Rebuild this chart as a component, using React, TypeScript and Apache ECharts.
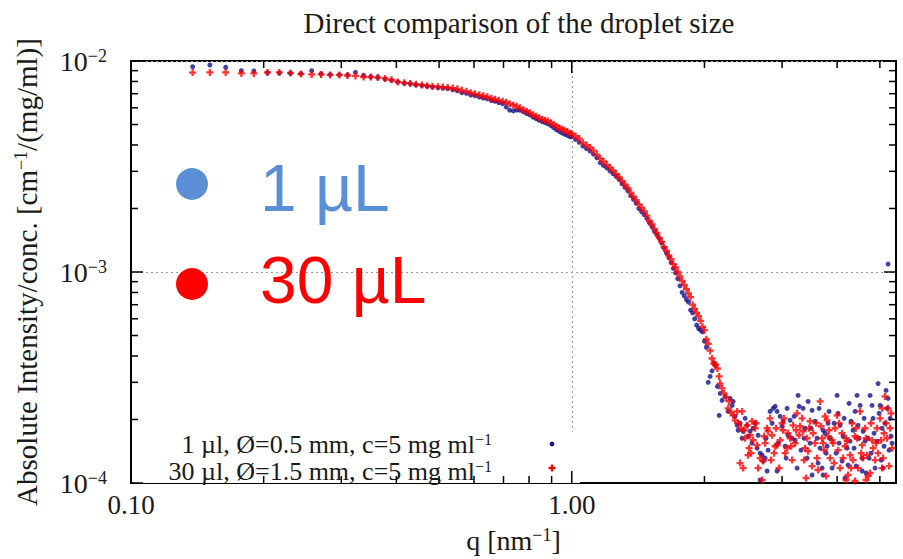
import React, { useEffect, useRef } from 'react';
import * as echarts from 'echarts';

// ---- data: smooth part (shared q grids) ----
const qLow = [
  0.138, 0.151, 0.164, 0.178, 0.190, 0.204, 0.217, 0.230, 0.243, 0.257,
  0.270, 0.283, 0.297, 0.310, 0.323, 0.337, 0.350, 0.363, 0.377, 0.390,
  0.403, 0.417, 0.430, 0.443, 0.457, 0.470, 0.483, 0.497, 0.510, 0.523,
  0.537, 0.550, 0.563, 0.577, 0.590, 0.603, 0.617, 0.630, 0.643, 0.657,
  0.670, 0.683, 0.697, 0.710, 0.723, 0.737, 0.750, 0.763, 0.777, 0.790,
  0.803, 0.817, 0.830, 0.843, 0.857, 0.870, 0.883, 0.897, 0.910, 0.923,
  0.937, 0.950, 0.963, 0.977, 0.990,
];
const redLow = [
  8.81e-3, 8.83e-3, 8.83e-3, 8.73e-3, 8.73e-3, 8.83e-3, 8.83e-3, 8.78e-3, 8.68e-3, 8.64e-3,
  8.64e-3, 8.59e-3, 8.59e-3, 8.54e-3, 8.50e-3, 8.40e-3, 8.40e-3, 8.36e-3, 8.27e-3, 8.14e-3,
  7.96e-3, 7.88e-3, 7.83e-3, 7.75e-3, 7.70e-3, 7.64e-3, 7.60e-3, 7.56e-3, 7.52e-3, 7.49e-3,
  7.44e-3, 7.38e-3, 7.26e-3, 7.18e-3, 7.07e-3, 6.99e-3, 6.91e-3, 6.84e-3, 6.77e-3, 6.66e-3,
  6.58e-3, 6.51e-3, 6.44e-3, 6.37e-3, 6.27e-3, 6.17e-3, 6.10e-3, 6.00e-3, 5.87e-3, 5.78e-3,
  5.69e-3, 5.56e-3, 5.47e-3, 5.39e-3, 5.30e-3, 5.24e-3, 5.19e-3, 5.10e-3, 4.99e-3, 4.91e-3,
  4.83e-3, 4.75e-3, 4.70e-3, 4.63e-3, 4.55e-3,
];
const blueLow = [
  9.40e-3, 9.57e-3, 9.34e-3, 9.00e-3, 8.97e-3, 8.80e-3, 8.78e-3, 8.75e-3, 8.72e-3, 9.00e-3,
  8.70e-3, 8.62e-3, 8.60e-3, 8.58e-3, 8.84e-3, 8.55e-3, 8.42e-3, 8.35e-3, 8.22e-3, 8.10e-3,
  7.95e-3, 7.85e-3, 7.80e-3, 7.72e-3, 7.66e-3, 7.58e-3, 7.52e-3, 7.48e-3, 7.44e-3, 7.40e-3,
  7.30e-3, 7.22e-3, 7.08e-3, 7.02e-3, 6.90e-3, 6.84e-3, 6.75e-3, 6.68e-3, 6.62e-3, 6.50e-3,
  6.44e-3, 6.36e-3, 6.28e-3, 6.05e-3, 5.85e-3, 5.80e-3, 5.86e-3, 5.84e-3, 5.74e-3, 5.64e-3,
  5.55e-3, 5.42e-3, 5.33e-3, 5.24e-3, 5.16e-3, 5.10e-3, 5.04e-3, 4.94e-3, 4.83e-3, 4.72e-3,
  4.64e-3, 4.56e-3, 4.50e-3, 4.44e-3, 4.38e-3,
];
const qMid = [
  1.00, 1.02, 1.04, 1.06, 1.08, 1.10, 1.12, 1.14, 1.16, 1.18,
  1.20, 1.22, 1.24, 1.26, 1.28, 1.30, 1.32, 1.34, 1.36, 1.38,
  1.40, 1.42, 1.44, 1.46, 1.48, 1.50, 1.52, 1.54, 1.56, 1.58,
  1.60, 1.62, 1.64, 1.66, 1.68, 1.70, 1.72, 1.74, 1.76, 1.78,
  1.80, 1.82, 1.84, 1.86, 1.88, 1.90, 1.92, 1.94, 1.96, 1.98,
  2.00, 2.02, 2.04, 2.06, 2.08, 2.10, 2.12, 2.14, 2.16,
];
const redMid = [
  4.52e-3, 4.40e-3, 4.29e-3, 4.10e-3, 3.99e-3, 3.89e-3, 3.76e-3, 3.60e-3, 3.45e-3, 3.34e-3,
  3.23e-3, 3.13e-3, 3.03e-3, 2.92e-3, 2.82e-3, 2.70e-3, 2.60e-3, 2.50e-3, 2.38e-3, 2.28e-3,
  2.19e-3, 2.09e-3, 2.02e-3, 1.94e-3, 1.85e-3, 1.75e-3, 1.68e-3, 1.60e-3, 1.53e-3, 1.45e-3,
  1.39e-3, 1.31e-3, 1.26e-3, 1.20e-3, 1.15e-3, 1.09e-3, 1.05e-3, 1.00e-3, 9.52e-4, 9.07e-4,
  8.68e-4, 8.31e-4, 7.92e-4, 7.60e-4, 7.00e-4, 6.69e-4, 6.41e-4, 6.17e-4, 5.87e-4, 5.50e-4,
  5.30e-4, 4.80e-4, 4.57e-4, 4.24e-4, 3.89e-4, 3.68e-4, 3.64e-4, 3.49e-4, 3.20e-4,
];
const blueMid = [
  4.38e-3, 4.25e-3, 4.12e-3, 3.95e-3, 3.84e-3, 3.74e-3, 3.62e-3, 3.48e-3, 3.30e-3, 3.20e-3,
  3.12e-3, 3.02e-3, 2.93e-3, 2.84e-3, 2.75e-3, 2.62e-3, 2.52e-3, 2.43e-3, 2.30e-3, 2.21e-3,
  2.12e-3, 2.00e-3, 1.93e-3, 1.87e-3, 1.80e-3, 1.71e-3, 1.64e-3, 1.56e-3, 1.50e-3, 1.44e-3,
  1.37e-3, 1.30e-3, 1.23e-3, 1.17e-3, 1.11e-3, 1.04e-3, 9.9e-4, 9.3e-4, 8.6e-4, 8.0e-4,
  7.7e-4, 7.4e-4, 7.2e-4, 6.6e-4, 6.4e-4, 6.0e-4, 5.6e-4, 5.4e-4, 5.3e-4, 5.2e-4,
  4.7e-4, 4.4e-4, 3.0e-4, 3.2e-4, 3.4e-4, 3.7e-4, 3.6e-4, 2.87e-4, 2.09e-4,
];

// ---- data: noisy high-q tail, [q, I] ----
const blueTail: [number, number][] = [
  [2.171, 2.657e-4], [2.193, 2.463e-4], [2.228, 2.572e-4], [2.263, 2.185e-4], [2.287, 2.517e-4],
  [2.311, 2.332e-4], [2.323, 2.436e-4], [2.348, 2.070e-4], [2.373, 1.877e-4], [2.385, 1.778e-4],
  [2.409, 1.919e-4], [2.435, 1.630e-4], [2.448, 1.759e-4], [2.473, 2.026e-4], [2.499, 1.877e-4],
  [2.512, 1.666e-4], [2.538, 1.759e-4], [2.565, 1.544e-4], [2.578, 1.817e-4], [2.606, 1.919e-4],
  [2.633, 1.462e-4], [2.647, 1.684e-4], [2.675, 1.385e-4], [2.675, 1.033e-4], [2.703, 1.355e-4],
  [2.717, 1.270e-4], [2.746, 1.312e-4], [2.760, 1.630e-4], [2.774, 1.140e-4], [2.789, 1.431e-4],
  [2.818, 2.185e-4], [2.848, 1.919e-4], [2.863, 2.258e-4], [2.893, 2.307e-4], [2.923, 2.185e-4],
  [2.923, 1.140e-4], [2.938, 1.544e-4], [2.970, 2.070e-4], [3.001, 1.857e-4], [3.017, 1.961e-4],
  [3.048, 1.494e-4], [3.064, 1.312e-4], [3.080, 2.258e-4], [3.096, 1.684e-4], [3.129, 1.982e-4],
  [3.162, 1.630e-4], [3.195, 2.070e-4], [3.212, 1.595e-4], [3.245, 1.177e-4], [3.262, 2.600e-4],
  [3.280, 2.307e-4], [3.313, 1.431e-4], [3.348, 2.258e-4], [3.366, 1.630e-4], [3.383, 1.817e-4],
  [3.419, 1.312e-4], [3.437, 2.436e-4], [3.473, 1.544e-4], [3.491, 1.817e-4], [3.509, 2.209e-4],
  [3.509, 1.091e-4], [3.565, 1.961e-4], [3.602, 1.630e-4], [3.621, 1.243e-4], [3.640, 2.258e-4],
  [3.659, 1.462e-4], [3.698, 1.177e-4], [3.717, 1.778e-4], [3.717, 1.091e-4], [3.756, 1.721e-4],
  [3.776, 1.385e-4], [3.796, 1.494e-4], [3.815, 1.919e-4], [3.835, 2.185e-4], [3.855, 1.630e-4],
  [3.896, 1.177e-4], [3.937, 1.919e-4], [3.978, 1.385e-4], [3.999, 2.600e-4], [4.020, 2.139e-4],
  [4.041, 1.544e-4], [4.062, 1.877e-4], [4.104, 1.270e-4], [4.126, 1.666e-4], [4.148, 2.026e-4],
  [4.169, 1.056e-4], [4.213, 1.462e-4], [4.235, 1.216e-4], [4.257, 2.384e-4], [4.280, 1.578e-4],
  [4.302, 1.961e-4], [4.347, 1.778e-4], [4.370, 1.462e-4], [4.393, 2.185e-4], [4.416, 1.203e-4],
  [4.439, 2.600e-4], [4.462, 1.877e-4], [4.486, 1.630e-4], [4.510, 2.332e-4], [4.557, 1.312e-4],
  [4.557, 1.140e-4], [4.581, 1.759e-4], [4.605, 2.026e-4], [4.629, 1.578e-4], [4.653, 1.115e-4],
  [4.702, 1.630e-4], [4.726, 1.312e-4], [4.751, 2.600e-4], [4.776, 1.385e-4], [4.801, 2.332e-4],
  [4.826, 2.026e-4], [4.851, 1.721e-4], [4.877, 1.177e-4], [4.928, 1.578e-4], [4.954, 2.960e-4],
  [4.980, 2.139e-4], [5.006, 2.332e-4], [5.032, 1.284e-4], [5.058, 1.817e-4], [5.085, 1.177e-4],
  [5.111, 1.494e-4], [5.138, 1.919e-4], [5.165, 2.746e-4], [5.192, 2.258e-4], [5.219, 2.517e-4],
  [5.219, 1.090e-3], [5.247, 1.431e-4], [5.275, 2.026e-4], [5.302, 1.666e-4], [5.330, 1.544e-4],
];
const redTail: [number, number][] = [
  [2.171, 2.960e-4], [2.193, 2.806e-4], [2.216, 2.657e-4], [2.240, 2.544e-4], [2.263, 2.258e-4],
  [2.275, 2.436e-4], [2.299, 2.162e-4], [2.323, 2.093e-4], [2.348, 1.982e-4], [2.373, 2.185e-4],
  [2.385, 1.919e-4], [2.409, 1.243e-4], [2.422, 1.817e-4], [2.435, 2.185e-4], [2.448, 1.177e-4],
  [2.460, 1.778e-4], [2.473, 1.630e-4], [2.499, 1.877e-4], [2.512, 1.355e-4], [2.525, 1.462e-4],
  [2.538, 1.684e-4], [2.552, 1.385e-4], [2.565, 1.961e-4], [2.578, 1.595e-4], [2.606, 1.817e-4],
  [2.619, 1.919e-4], [2.633, 1.511e-4], [2.647, 1.177e-4], [2.675, 1.312e-4], [2.703, 1.033e-4],
  [2.717, 1.270e-4], [2.731, 1.666e-4], [2.746, 1.544e-4], [2.774, 1.817e-4], [2.789, 1.759e-4],
  [2.818, 2.026e-4], [2.833, 1.284e-4], [2.848, 1.684e-4], [2.878, 1.385e-4], [2.893, 1.494e-4],
  [2.908, 1.817e-4], [2.923, 1.511e-4], [2.954, 1.177e-4], [2.970, 1.595e-4], [3.001, 1.919e-4],
  [3.017, 1.778e-4], [3.032, 2.026e-4], [3.048, 1.385e-4], [3.080, 1.462e-4], [3.096, 1.721e-4],
  [3.129, 1.630e-4], [3.145, 1.494e-4], [3.162, 1.284e-4], [3.178, 1.877e-4], [3.212, 1.544e-4],
  [3.229, 1.778e-4], [3.245, 2.139e-4], [3.280, 1.684e-4], [3.296, 1.857e-4], [3.331, 2.026e-4],
  [3.348, 1.759e-4], [3.366, 1.284e-4], [3.383, 1.462e-4], [3.401, 1.056e-4], [3.419, 1.630e-4],
  [3.437, 1.415e-4], [3.455, 1.817e-4], [3.473, 1.961e-4], [3.509, 1.203e-4], [3.528, 1.721e-4],
  [3.565, 1.544e-4], [3.584, 1.919e-4], [3.602, 1.312e-4], [3.621, 1.152e-4], [3.659, 2.436e-4],
  [3.678, 1.857e-4], [3.698, 1.630e-4], [3.717, 1.544e-4], [3.737, 1.431e-4], [3.756, 2.070e-4],
  [3.776, 1.079e-4], [3.796, 1.982e-4], [3.815, 1.666e-4], [3.835, 1.778e-4], [3.855, 1.312e-4],
  [3.896, 1.595e-4], [3.916, 1.544e-4], [3.937, 1.243e-4], [3.957, 1.817e-4], [3.999, 2.093e-4],
  [4.020, 1.431e-4], [4.041, 1.919e-4], [4.062, 1.177e-4], [4.104, 1.721e-4], [4.126, 1.312e-4],
  [4.169, 1.494e-4], [4.191, 1.033e-4], [4.191, 1.630e-4], [4.213, 1.578e-4], [4.235, 1.091e-4],
  [4.280, 1.355e-4], [4.302, 1.177e-4], [4.325, 1.919e-4], [4.347, 1.284e-4], [4.393, 1.666e-4],
  [4.393, 1.022e-4], [4.416, 1.817e-4], [4.439, 1.630e-4], [4.462, 1.177e-4], [4.510, 2.185e-4],
  [4.533, 1.385e-4], [4.557, 1.511e-4], [4.581, 1.312e-4], [4.629, 1.817e-4], [4.653, 1.033e-4],
  [4.653, 1.630e-4], [4.677, 1.355e-4], [4.702, 1.079e-4], [4.751, 1.115e-4], [4.776, 1.919e-4],
  [4.801, 1.595e-4], [4.826, 1.462e-4], [4.877, 1.284e-4], [4.902, 1.544e-4], [4.928, 1.817e-4],
  [4.954, 1.385e-4], [5.006, 2.026e-4], [5.032, 1.595e-4], [5.058, 2.258e-4], [5.058, 1.177e-4],
  [5.085, 1.312e-4], [5.111, 1.721e-4], [5.138, 2.572e-4], [5.165, 1.919e-4], [5.192, 1.630e-4],
  [5.219, 2.258e-4], [5.247, 1.203e-4], [5.275, 1.817e-4], [5.302, 2.139e-4], [5.330, 1.462e-4],
];

// ---- axis ticks ----
const xMajorTicks = [0.1, 1];
const xMinorTicks = [0.2, 0.3, 0.4, 0.5, 0.6, 0.7, 0.8, 0.9, 2, 3, 4, 5];
const yMajorTicks = [1e-4, 1e-3, 1e-2];
const yMinorTicks = [
  2e-4, 3e-4, 4e-4, 5e-4, 6e-4, 7e-4, 8e-4, 9e-4,
  2e-3, 3e-3, 4e-3, 5e-3, 6e-3, 7e-3, 8e-3, 9e-3,
];

const TITLE = 'Direct comparison of the droplet size';
const LEGEND_1 = '1 µl, Ø=0.5 mm, c=5 mg ml{s|−1}';
const LEGEND_2 = '30 µl, Ø=1.5 mm, c=5 mg ml{s|−1}';
const SERIF = "'Liberation Serif', 'DejaVu Serif', serif";
const TXT = '#1a1a1a';
const BLUE = '#12128a';
const RED = '#ff0000';
const PLUS = 'path://M2,0H4V2H6V4H4V6H2V4H0V2H2Z';

export default function App() {
  const ref = useRef<HTMLDivElement>(null);

  useEffect(() => {
    if (!ref.current) return;
    const chart = echarts.init(ref.current, null, { renderer: 'svg' });

    const blueData = [
      ...qLow.map((q, i) => [q, blueLow[i]]),
      ...qMid.map((q, i) => [q, blueMid[i]]),
      ...blueTail,
    ];
    const redData = [
      ...qLow.map((q, i) => [q, redLow[i]]),
      ...qMid.map((q, i) => [q, redMid[i]]),
      ...redTail,
    ];

    const supRich = {
      s: { fontSize: 18, fontFamily: SERIF, color: TXT, verticalAlign: 'top' as const },
    };
    const tickStyle = { stroke: '#000', lineWidth: 1.5 };
    const legendRich = { s: { fontSize: 16, fontFamily: SERIF, fill: TXT, verticalAlign: 'top' } };

    chart.setOption({
      animation: false,
      backgroundColor: '#fff',
      title: {
        text: TITLE,
        left: 514,
        top: 3,
        textAlign: 'center',
        textStyle: { fontFamily: SERIF, fontSize: 29, fontWeight: 'normal', color: TXT },
      },
      grid: {
        left: 131,
        right: 7,
        top: 61,
        bottom: 74,
        show: true,
        borderColor: '#000',
        borderWidth: 2,
        backgroundColor: 'transparent',
      },
      xAxis: {
        type: 'log',
        logBase: 10,
        min: 0.1,
        max: 5.44,
        z: 0,
        name: 'q [nm{s|−1}]',
        nameLocation: 'middle',
        nameGap: 43,
        nameTextStyle: { fontFamily: SERIF, fontSize: 28, color: TXT, rich: supRich },
        axisLine: { show: true, lineStyle: { color: '#000', width: 2 } },
        axisTick: { show: false },
        splitLine: {
          show: true,
          showMinLine: false,
          showMaxLine: false,
          lineStyle: { color: '#9a9a9a', type: [2, 3], width: 1.2 },
        },
        axisLabel: {
          margin: 8,
          fontFamily: SERIF,
          fontSize: 27,
          color: TXT,
          showMaxLabel: false,
          formatter: (v: number) => {
            const e = Math.log10(v);
            return Math.abs(e - Math.round(e)) < 1e-6 ? v.toFixed(2) : '';
          },
        },
      },
      yAxis: {
        type: 'log',
        logBase: 10,
        min: 1e-4,
        max: 1e-2,
        z: 0,
        name: 'Absolute Intensity/conc. [cm{s|−1}/(mg/ml)]',
        nameLocation: 'middle',
        nameRotate: 90,
        nameGap: 90,
        nameTextStyle: { fontFamily: SERIF, fontSize: 29, color: TXT, rich: supRich },
        axisLine: { show: true, lineStyle: { color: '#000', width: 2 } },
        axisTick: { show: false },
        splitLine: {
          show: true,
          showMinLine: false,
          showMaxLine: false,
          lineStyle: { color: '#9a9a9a', type: [2, 3], width: 1.2 },
        },
        axisLabel: {
          margin: 24,
          fontFamily: SERIF,
          fontSize: 28,
          color: TXT,
          formatter: (v: number) => `{b|10}{s|−${Math.abs(Math.round(Math.log10(v)))}}`,
          rich: {
            b: { fontSize: 28, fontFamily: SERIF, color: TXT },
            s: { fontSize: 18, fontFamily: SERIF, color: TXT, verticalAlign: 'top' },
          },
        },
      },
      graphic: [
        // legend box (white, hides grid line)
        { type: 'rect', z: 1, silent: true, shape: { x: 133, y: 432, width: 447, height: 51 }, style: { fill: '#fff' } },
        {
          type: 'text', z: 10, silent: true,
          style: {
            text: LEGEND_1, x: 492, y: 444, align: 'right', verticalAlign: 'middle',
            fontFamily: SERIF, fontSize: 26, fill: TXT, rich: legendRich,
          },
        },
        {
          type: 'text', z: 10, silent: true,
          style: {
            text: LEGEND_2, x: 492, y: 471, align: 'right', verticalAlign: 'middle',
            fontFamily: SERIF, fontSize: 26, fill: TXT, rich: legendRich,
          },
        },
        { type: 'circle', z: 10, silent: true, shape: { cx: 552, cy: 444, r: 2.4 }, style: { fill: BLUE } },
        { type: 'rect', z: 10, silent: true, shape: { x: 548.5, y: 466.8, width: 7, height: 2.4 }, style: { fill: RED } },
        { type: 'rect', z: 10, silent: true, shape: { x: 550.8, y: 464.5, width: 2.4, height: 7 }, style: { fill: RED } },
        // big annotations
        { type: 'circle', z: 12, silent: true, shape: { cx: 192, cy: 184, r: 16 }, style: { fill: '#5a8fd6' } },
        {
          type: 'text', z: 12, silent: true,
          style: {
            text: '1 µL', x: 260, y: 188, verticalAlign: 'middle',
            fontFamily: "'Liberation Sans', Arial, sans-serif", fontSize: 66, fill: '#5a8fd6',
          },
        },
        { type: 'circle', z: 12, silent: true, shape: { cx: 192, cy: 284, r: 16 }, style: { fill: RED } },
        {
          type: 'text', z: 12, silent: true,
          style: {
            text: '30 µL', x: 260, y: 280, verticalAlign: 'middle',
            fontFamily: "'Liberation Sans', Arial, sans-serif", fontSize: 66, fill: RED,
          },
        },
      ],
      series: [
        {
          name: '1 µl',
          type: 'scatter',
          z: 3,
          silent: true,
          symbol: 'circle',
          symbolSize: 5,
          itemStyle: { color: BLUE },
          data: blueData,
        },
        {
          name: '30 µl',
          type: 'scatter',
          z: 4,
          silent: true,
          symbol: PLUS,
          symbolSize: 7,
          itemStyle: { color: RED },
          data: redData,
        },
        {
          name: 'xTicks',
          type: 'custom',
          z: 6,
          silent: true,
          data: [
            ...xMajorTicks.map((v) => [v, 1e-3, 12]),
            ...xMinorTicks.map((v) => [v, 1e-3, 7]),
          ],
          encode: { x: 0, y: 1 },
          renderItem: (params: any, api: any) => {
            const cs = params.coordSys;
            const px = api.coord([api.value(0), api.value(1)])[0];
            const L = api.value(2);
            const b = cs.y + cs.height;
            return {
              type: 'group',
              children: [
                { type: 'line', shape: { x1: px, y1: b, x2: px, y2: b - L }, style: tickStyle },
                { type: 'line', shape: { x1: px, y1: cs.y, x2: px, y2: cs.y + L }, style: tickStyle },
              ],
            };
          },
        },
        {
          name: 'yTicks',
          type: 'custom',
          z: 6,
          silent: true,
          data: [
            ...yMajorTicks.map((v) => [1, v, 12]),
            ...yMinorTicks.map((v) => [1, v, 7]),
          ],
          encode: { x: 0, y: 1 },
          renderItem: (params: any, api: any) => {
            const cs = params.coordSys;
            const py = api.coord([api.value(0), api.value(1)])[1];
            const L = api.value(2);
            const r = cs.x + cs.width;
            return {
              type: 'group',
              children: [
                { type: 'line', shape: { x1: cs.x, y1: py, x2: cs.x + L, y2: py }, style: tickStyle },
                { type: 'line', shape: { x1: r, y1: py, x2: r - L, y2: py }, style: tickStyle },
              ],
            };
          },
        },
      ],
    });

    return () => chart.dispose();
  }, []);

  return (
    <div
      ref={ref}
      style={{ position: 'fixed', left: 0, top: 0, width: 903, height: 559, background: '#fff' }}
    />
  );
}
